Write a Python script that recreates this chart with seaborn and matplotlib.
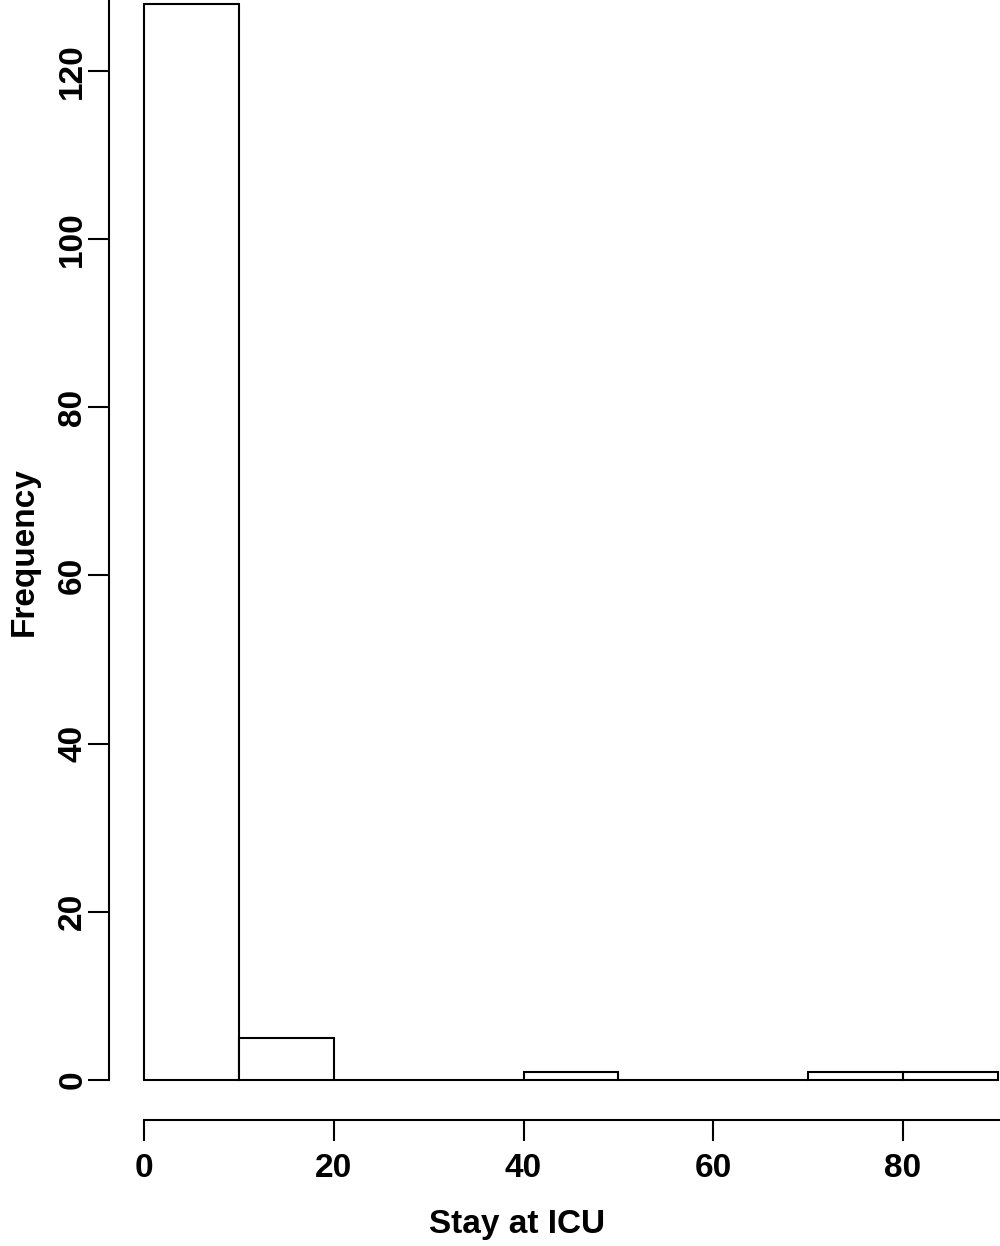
import numpy as np
import matplotlib
matplotlib.use("Agg")
import matplotlib.pyplot as plt
import seaborn as sns

# histogram of ICU stay, 10-day bins
bin_edges = [0, 10, 20, 30, 40, 50, 60, 70, 80, 90]
counts = [128, 5, 0, 0, 1, 0, 0, 1, 1]
x_ticks = [0, 20, 40, 60, 80, 100]
y_ticks = [0, 20, 40, 60, 80, 100, 120, 140]

sns.set_style("ticks")
plt.rcParams['font.family'] = ['Liberation Sans', 'DejaVu Sans']
plt.rcParams['font.weight'] = 'bold'
plt.rcParams['text.color'] = 'black'
plt.rcParams['axes.labelcolor'] = 'black'
plt.rcParams['xtick.color'] = 'black'
plt.rcParams['ytick.color'] = 'black'

W, H = 1000, 1246
fig = plt.figure(figsize=(W / 100, H / 100), dpi=100)

# pixel geometry of the original plot region
px_x0, px_per_x = 144.0, (903.0 - 144.0) / 80.0
px_y0, px_per_y = 1080.0, (1080.0 - 71.0) / 120.0
ax_left_px, ax_bottom_px = 109.0, 1120.0
ax = fig.add_axes([ax_left_px / W, (H - ax_bottom_px) / H,
                   (W - ax_left_px) / W, ax_bottom_px / H])

centers = [(a + b) / 2 for a, b in zip(bin_edges[:-1], bin_edges[1:])]
sns.histplot(x=centers, weights=counts, bins=bin_edges, ax=ax,
             color='white', edgecolor='black', linewidth=1.5, alpha=1)

ax.set_xticks(x_ticks)
ax.set_yticks(y_ticks)
xmax = (W - px_x0) / px_per_x
ymax = px_y0 / px_per_y
ax.set_xlim(-(px_x0 - ax_left_px) / px_per_x, xmax)
ax.set_ylim(-(ax_bottom_px - px_y0) / px_per_y, ymax)

# R-style detached axes: lines start at the first tick
sns.despine(ax=ax)
ax.spines['left'].set_bounds(0, ymax)
ax.spines['bottom'].set_bounds(0, xmax)
for s in ['left', 'bottom']:
    ax.spines[s].set_linewidth(1.5)
    ax.spines[s].set_color('black')

ax.tick_params(axis='both', direction='out', length=15, width=1.5,
               color='black', labelcolor='black', labelsize=24)
ax.tick_params(axis='x', pad=9)
ax.tick_params(axis='y', pad=0, labelrotation=90)
for lab in ax.get_yticklabels():
    lab.set_va('center')
for lab in ax.get_xticklabels() + ax.get_yticklabels():
    lab.set_fontweight('bold')

ax.set_xlabel('Stay at ICU', fontsize=24, fontweight='bold', color='black')
ax.set_ylabel('Frequency', fontsize=24, fontweight='bold', color='black')
ax.xaxis.set_label_coords(517 / W, (H - 1233) / H, transform=fig.transFigure)
ax.xaxis.label.set_va('baseline')
ax.yaxis.set_label_coords(24 / W, (H - 552) / H, transform=fig.transFigure)
ax.yaxis.label.set_va('center')
ax.yaxis.label.set_ha('center')

fig.savefig('out.png', dpi=100)
